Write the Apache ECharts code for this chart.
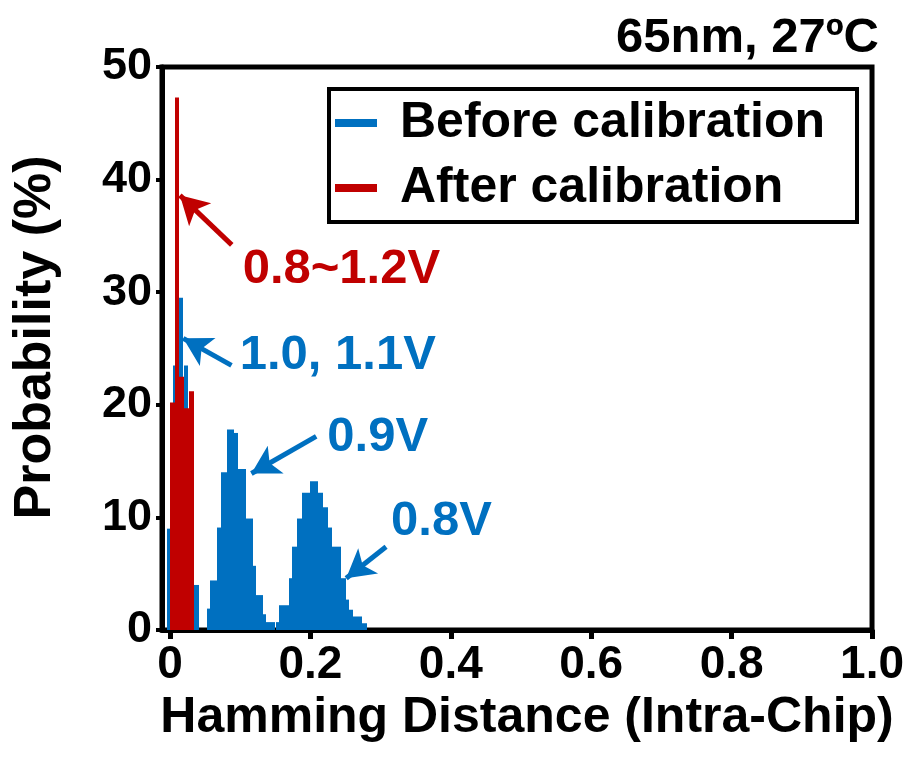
<!DOCTYPE html>
<html>
<head>
<meta charset="utf-8">
<script src="https://cdn.jsdelivr.net/npm/echarts@6/dist/echarts.min.js"></script>
<style>
  html, body { margin: 0; padding: 0; background: #fff; }
  #chart { width: 907px; height: 758px; }
</style>
</head>
<body>
<div id="chart"></div>
<script>
const BLUE = '#0070C0';
const RED = '#C00000';
const FONT = "'Liberation Sans', Arial, Helvetica, sans-serif";

// histogram bins: edges (Hamming distance) and heights (%)
const before11Edges = [-0.004, 0.0045, 0.0075, 0.0135, 0.018, 0.0205, 0.0255, 0.034, 0.041];
const before11Heights = [9.0, 23.5, 20.0, 29.5, 20.0, 23.5, 15.0, 4.0];

const before09Edges = [0.0526, 0.0568, 0.0668, 0.0724, 0.081, 0.0909, 0.0966, 0.108, 0.1179, 0.1222, 0.1321, 0.1364, 0.1491];
const before09Heights = [1.9, 4.4, 9.1, 14.0, 17.8, 17.5, 14.3, 9.9, 5.7, 3.1, 1.4, 0.7];

const before08Edges = [0.1506, 0.1548, 0.169, 0.1733, 0.1804, 0.1875, 0.1989, 0.2102, 0.2173, 0.2244, 0.2301, 0.2443, 0.2514, 0.2557, 0.2614, 0.2741, 0.2813];
const before08Heights = [0.7, 2.2, 4.6, 7.4, 9.9, 12.2, 13.2, 12.2, 10.9, 9.1, 7.4, 4.6, 2.7, 1.8, 1.2, 0.6];

const afterEdges = [0, 0.0075, 0.0135, 0.0195, 0.027, 0.034];
const afterHeights = [20.2, 47.3, 22.5, 19.7, 21.2];

const xTicks = [0, 0.2, 0.4, 0.6, 0.8, 1.0];

// annotations: [label, text anchor, arrow tail, arrow head]
const redNotes = [['0.8~1.2V', [0.1035, 32.0], [0.088, 34.2], [0.0142, 38.6]]];
const blueNotes = [
  ['1.0, 1.1V', [0.0993, 24.4], [0.0876, 23.5], [0.0189, 25.9]],
  ['0.9V', [0.2241, 17.1], [0.2083, 17.2], [0.116, 13.9]],
  ['0.8V', [0.3149, 9.6], [0.3078, 7.4], [0.251, 4.6]]
];

function toBins (edges, heights) {
  return heights.map((h, i) => [edges[i], edges[i + 1], h]);
}

function renderBin (params, api) {
  const top = api.coord([api.value(0), api.value(2)]);
  const base = api.coord([api.value(1), 0]);
  const x0 = Math.round(top[0]);
  const x1 = Math.round(base[0]);
  return {
    type: 'rect',
    shape: { x: x0, y: top[1], width: Math.max(x1 - x0, 1), height: base[1] - top[1] },
    style: { fill: api.visual('color') }
  };
}

function notes (list, color) {
  return {
    markLine: {
      silent: true,
      animation: false,
      symbol: ['none', 'arrow'],
      symbolSize: [24, 28],
      label: { show: false },
      lineStyle: { color: color, width: 5, type: 'solid' },
      data: list.map(n => [{ coord: n[2] }, { coord: n[3] }])
    },
    markPoint: {
      silent: true,
      animation: false,
      symbol: 'circle',
      symbolSize: 0,
      label: {
        show: true, position: 'right', distance: 0,
        formatter: p => p.name,
        color: color, fontFamily: FONT, fontWeight: 'bold', fontSize: 49
      },
      data: list.map(n => ({ name: n[0], coord: n[1] }))
    }
  };
}

function histSeries (name, color, edges, heights, extra) {
  return Object.assign({
    type: 'custom',
    name: name,
    renderItem: renderBin,
    itemStyle: { color: color },
    encode: { x: [0, 1], y: 2 },
    clip: true,
    data: toBins(edges, heights)
  }, extra || {});
}

const chart = echarts.init(document.getElementById('chart'));
chart.setOption({
  animation: false,
  title: {
    text: '65nm, 27ºC',
    right: 23,
    top: 9,
    textStyle: { fontFamily: FONT, fontWeight: 'bold', fontSize: 49, color: '#000' }
  },
  legend: {
    data: ['Before calibration', 'After calibration'],
    orient: 'vertical',
    left: 329,
    top: 89,
    selectedMode: false,
    icon: 'rect',
    itemWidth: 42,
    itemHeight: 8,
    itemGap: 9,
    padding: [6, 10, 6, 6],
    borderColor: '#000',
    borderWidth: 4,
    textStyle: {
      fontFamily: FONT, fontWeight: 'bold', fontSize: 50, color: '#000',
      lineHeight: 56, padding: [0, 0, 0, 18], width: 447
    }
  },
  grid: {
    left: 162, right: 32, top: 67, bottom: 128,
    show: true, borderColor: '#000', borderWidth: 5, backgroundColor: '#fff'
  },
  xAxis: {
    type: 'value',
    min: -0.01135,
    max: 1,
    name: 'Hamming Distance (Intra-Chip)',
    nameLocation: 'middle',
    nameGap: 57,
    nameTextStyle: { fontFamily: FONT, fontWeight: 'bold', fontSize: 50, color: '#000', padding: [0, 0, 0, 20] },
    axisLine: { show: true, onZero: false, lineStyle: { color: '#000', width: 5 } },
    axisTick: { show: true, customValues: xTicks, length: 9, lineStyle: { color: '#000', width: 5 } },
    axisLabel: {
      customValues: xTicks,
      formatter: v => (v === 0 ? '0' : v.toFixed(1)),
      margin: 12,
      fontFamily: FONT, fontWeight: 'bold', fontSize: 46, color: '#000'
    },
    splitLine: { show: false }
  },
  yAxis: {
    type: 'value',
    min: 0,
    max: 50,
    interval: 10,
    name: 'Probability (%)',
    nameLocation: 'middle',
    nameGap: 100,
    nameTextStyle: { fontFamily: FONT, fontWeight: 'bold', fontSize: 52, color: '#000', padding: [0, 0, 0, 22] },
    axisLine: { show: true, onZero: false, lineStyle: { color: '#000', width: 5 } },
    axisTick: { show: true, length: 6, lineStyle: { color: '#000', width: 4 } },
    axisLabel: {
      margin: 10,
      fontFamily: FONT, fontWeight: 'bold', fontSize: 45, color: '#000'
    },
    splitLine: { show: false }
  },
  series: [
    histSeries('Before calibration', BLUE, before11Edges, before11Heights),
    histSeries('Before calibration', BLUE, before09Edges, before09Heights),
    histSeries('Before calibration', BLUE, before08Edges, before08Heights, notes(blueNotes, BLUE)),
    histSeries('After calibration', RED, afterEdges, afterHeights, notes(redNotes, RED))
  ]
});
</script>
</body>
</html>
